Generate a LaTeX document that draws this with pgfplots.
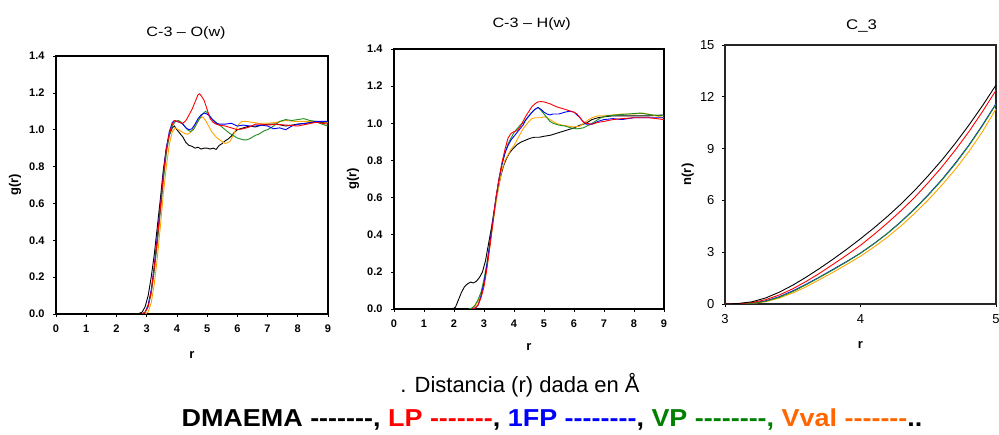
\documentclass[border=0pt]{standalone}
\usepackage{fontspec}
\setmainfont{Liberation Sans}
\newfontfamily\titlefont[FakeStretch=1.2]{Liberation Sans}
\newfontfamily\capfont{Liberation Sans}
\newfontfamily\capboldfont[FakeStretch=1.1]{Liberation Sans Bold}
\usepackage{pgfplots}
\pgfplotsset{compat=1.18}
\definecolor{cgreen}{RGB}{30,140,30}
\definecolor{corange}{RGB}{255,165,0}
\definecolor{txtorange}{RGB}{255,102,0}
\definecolor{txtgreen}{RGB}{0,128,0}
\pgfplotsset{
  rdf/.style={scale only axis,
    axis line style={black,line width=1.5pt},
    tick style={black,line width=0.6pt},
    major tick length=3pt, tick align=outside,
    xtick pos=left, ytick pos=left,
    /pgf/number format/assume math mode=true,
    tick label style={font=\fontsize{11}{13}\selectfont\bfseries},
    xticklabel style={yshift=-4pt},
    yticklabel style={xshift=-5pt},
    xmin=0,xmax=9,ymin=0,ymax=1.4,
    xtick={0,1,...,9}, ytick={0,0.2,...,1.4},
    yticklabel style={/pgf/number format/.cd,fixed,fixed zerofill,precision=1},
    label style={font=\fontsize{13}{15}\selectfont\bfseries},
    title style={font=\fontsize{13.5}{15}\selectfont\titlefont},
  },
  cv/.style={line width=0.9pt},
}
\begin{document}
\begin{tikzpicture}[x=1pt,y=1pt]
\useasboundingbox (0,0) rectangle (999,435);
% ---------- Panel 1 ----------
\begin{axis}[rdf, at={(56pt,121pt)}, anchor=south west, width=272pt, height=258pt,
  title={C-3 – O(w)}, title style={at={(axis description cs:0.478,1.066)},anchor=center},
  xlabel={r}, xlabel style={at={(axis description cs:0.5,-0.159)},anchor=center},
  ylabel={g(r)}, ylabel style={at={(axis description cs:-0.151,0.5)},anchor=center}]
\addplot[cv,black] coordinates {(2.7,0) (2.85,0.01) (2.95,0.04) (3.05,0.1) (3.15,0.2) (3.25,0.32) (3.35,0.47) (3.45,0.62) (3.55,0.78) (3.65,0.9) (3.75,0.97) (3.85,1.01) (3.92,1.02) (4.0,1.0) (4.1,0.98) (4.2,0.96) (4.3,0.93) (4.4,0.915) (4.5,0.91) (4.6,0.9) (4.7,0.905) (4.8,0.895) (4.9,0.9) (5.0,0.9) (5.1,0.895) (5.2,0.9) (5.3,0.893) (5.4,0.915) (5.5,0.925) (5.6,0.94) (5.7,0.95) (5.8,0.965) (5.9,0.985) (6.0,1.0) (6.2,1.01) (6.4,1.02) (6.6,1.015) (6.8,1.025) (7.0,1.03) (7.3,1.03) (7.6,1.02) (8.0,1.03) (8.5,1.04) (9.0,1.04)};
\addplot[cv,corange] coordinates {(2.95,0) (3.05,0.01) (3.15,0.06) (3.25,0.16) (3.35,0.3) (3.45,0.47) (3.55,0.65) (3.65,0.8) (3.75,0.92) (3.85,0.99) (3.95,1.01) (4.05,1.0) (4.15,0.99) (4.25,0.98) (4.35,0.975) (4.45,0.985) (4.55,1.01) (4.65,1.04) (4.75,1.06) (4.85,1.07) (4.95,1.05) (5.05,1.02) (5.15,0.99) (5.3,0.96) (5.45,0.94) (5.6,0.925) (5.75,0.935) (5.85,0.965) (5.95,1.0) (6.05,1.03) (6.15,1.045) (6.3,1.045) (6.5,1.04) (6.7,1.035) (7.0,1.035) (7.3,1.04) (7.6,1.05) (7.9,1.045) (8.2,1.045) (8.6,1.045) (9.0,1.04)};
\addplot[cv,cgreen] coordinates {(2.85,0) (2.95,0.01) (3.05,0.04) (3.15,0.11) (3.25,0.23) (3.35,0.38) (3.45,0.55) (3.55,0.72) (3.65,0.87) (3.75,0.97) (3.85,1.02) (3.95,1.045) (4.05,1.05) (4.15,1.04) (4.25,1.02) (4.35,1.0) (4.45,0.99) (4.55,1.0) (4.65,1.03) (4.75,1.06) (4.85,1.085) (4.95,1.1) (5.05,1.085) (5.15,1.06) (5.3,1.04) (5.45,1.02) (5.6,1.0) (5.75,0.98) (5.9,0.965) (6.0,0.955) (6.1,0.95) (6.2,0.945) (6.3,0.945) (6.4,0.95) (6.5,0.96) (6.6,0.97) (6.7,0.975) (6.8,0.985) (6.9,0.995) (7.0,1.0) (7.2,1.02) (7.4,1.045) (7.6,1.055) (7.8,1.05) (8.0,1.055) (8.2,1.06) (8.4,1.05) (8.6,1.045) (8.8,1.03) (9.0,1.02)};
\addplot[cv,blue] coordinates {(2.85,0) (2.95,0.01) (3.05,0.05) (3.15,0.13) (3.25,0.26) (3.35,0.42) (3.45,0.58) (3.55,0.76) (3.65,0.9) (3.75,0.99) (3.85,1.04) (3.92,1.05) (4.0,1.045) (4.1,1.04) (4.2,1.03) (4.3,1.01) (4.4,1.0) (4.5,1.005) (4.6,1.03) (4.7,1.06) (4.8,1.08) (4.9,1.09) (5.0,1.085) (5.1,1.07) (5.2,1.05) (5.3,1.035) (5.4,1.03) (5.6,1.03) (5.8,1.035) (6.0,1.02) (6.2,1.025) (6.4,1.02) (6.6,1.02) (6.8,1.025) (7.0,1.02) (7.2,1.005) (7.4,1.01) (7.6,1.0) (7.8,1.02) (8.0,1.03) (8.3,1.035) (8.6,1.045) (9.0,1.045)};
\addplot[cv,red] coordinates {(2.85,0) (2.95,0.01) (3.05,0.04) (3.15,0.12) (3.25,0.25) (3.35,0.4) (3.45,0.57) (3.55,0.75) (3.65,0.89) (3.75,0.98) (3.85,1.03) (3.92,1.05) (4.0,1.045) (4.1,1.04) (4.2,1.035) (4.3,1.05) (4.4,1.08) (4.5,1.11) (4.6,1.15) (4.7,1.19) (4.75,1.195) (4.8,1.185) (4.9,1.16) (5.0,1.11) (5.1,1.06) (5.2,1.04) (5.3,1.03) (5.4,1.025) (5.6,1.02) (5.8,1.01) (6.0,1.0) (6.2,1.005) (6.4,1.015) (6.6,1.03) (6.8,1.03) (7.0,1.025) (7.3,1.03) (7.6,1.025) (8.0,1.02) (8.3,1.03) (8.6,1.04) (9.0,1.03)};
\end{axis}
% ---------- Panel 2 ----------
\begin{axis}[rdf, at={(394pt,126pt)}, anchor=south west, width=270pt, height=260pt,
  title={C-3 – H(w)}, title style={at={(axis description cs:0.51,1.074)},anchor=center},
  xlabel={r}, xlabel style={at={(axis description cs:0.5,-0.146)},anchor=center},
  ylabel={g(r)}, ylabel style={at={(axis description cs:-0.152,0.5)},anchor=center}]
\addplot[cv,black] coordinates {(1.95,0) (2.05,0.01) (2.15,0.05) (2.25,0.09) (2.35,0.12) (2.45,0.135) (2.55,0.145) (2.65,0.14) (2.75,0.15) (2.85,0.17) (2.95,0.2) (3.05,0.26) (3.15,0.35) (3.25,0.44) (3.35,0.54) (3.45,0.63) (3.55,0.71) (3.65,0.77) (3.75,0.81) (3.85,0.84) (3.95,0.86) (4.1,0.885) (4.25,0.9) (4.4,0.91) (4.55,0.92) (4.7,0.925) (4.85,0.925) (5.0,0.93) (5.2,0.935) (5.4,0.945) (5.6,0.955) (5.8,0.965) (6.0,0.975) (6.2,0.99) (6.4,1.0) (6.6,1.02) (6.8,1.03) (7.0,1.035) (7.3,1.04) (7.6,1.04) (8.0,1.04) (8.5,1.04) (9.0,1.045)};
\addplot[cv,corange] coordinates {(2.5,0) (2.6,0.005) (2.7,0.015) (2.8,0.04) (2.9,0.08) (3.0,0.14) (3.1,0.23) (3.2,0.34) (3.3,0.46) (3.4,0.57) (3.5,0.67) (3.6,0.75) (3.7,0.8) (3.8,0.83) (3.9,0.86) (4.0,0.88) (4.1,0.91) (4.2,0.94) (4.3,0.97) (4.4,0.99) (4.5,1.01) (4.6,1.025) (4.7,1.03) (4.8,1.03) (4.9,1.03) (5.0,1.035) (5.1,1.03) (5.2,1.02) (5.3,1.01) (5.4,1.0) (5.6,0.99) (5.8,0.985) (6.0,0.98) (6.2,0.985) (6.4,1.01) (6.6,1.03) (6.8,1.04) (7.0,1.04) (7.3,1.045) (7.6,1.05) (8.0,1.05) (8.3,1.055) (8.6,1.045) (9.0,1.03)};
\addplot[cv,cgreen] coordinates {(2.5,0) (2.6,0.005) (2.7,0.02) (2.8,0.05) (2.9,0.09) (3.0,0.16) (3.1,0.25) (3.2,0.36) (3.3,0.48) (3.4,0.6) (3.5,0.7) (3.6,0.78) (3.7,0.84) (3.8,0.89) (3.9,0.92) (4.0,0.95) (4.1,0.97) (4.2,0.99) (4.3,1.0) (4.4,1.02) (4.5,1.04) (4.6,1.06) (4.7,1.075) (4.8,1.085) (4.9,1.07) (5.0,1.05) (5.1,1.03) (5.2,1.01) (5.3,1.0) (5.5,0.99) (5.7,0.985) (5.9,0.975) (6.1,0.97) (6.3,0.975) (6.5,0.99) (6.7,1.01) (6.9,1.03) (7.1,1.04) (7.4,1.045) (7.8,1.05) (8.2,1.055) (8.6,1.045) (9.0,1.04)};
\addplot[cv,blue] coordinates {(2.6,0) (2.7,0.005) (2.8,0.02) (2.9,0.07) (3.0,0.14) (3.1,0.24) (3.2,0.36) (3.3,0.48) (3.4,0.6) (3.5,0.7) (3.6,0.78) (3.7,0.84) (3.8,0.88) (3.9,0.91) (4.0,0.93) (4.1,0.95) (4.2,0.97) (4.3,0.99) (4.4,1.02) (4.5,1.04) (4.6,1.06) (4.7,1.075) (4.8,1.085) (4.9,1.075) (5.0,1.06) (5.1,1.05) (5.2,1.045) (5.3,1.05) (5.5,1.05) (5.7,1.06) (5.85,1.065) (6.0,1.06) (6.1,1.045) (6.2,1.03) (6.3,1.01) (6.4,0.995) (6.6,0.995) (6.8,1.01) (7.0,1.02) (7.3,1.025) (7.6,1.02) (8.0,1.03) (8.5,1.03) (9.0,1.03)};
\addplot[cv,red] coordinates {(2.6,0) (2.7,0.005) (2.8,0.02) (2.9,0.06) (3.0,0.12) (3.1,0.22) (3.2,0.34) (3.3,0.47) (3.4,0.6) (3.5,0.7) (3.6,0.79) (3.7,0.86) (3.8,0.92) (3.9,0.945) (4.0,0.955) (4.1,0.96) (4.2,0.98) (4.3,1.01) (4.4,1.04) (4.5,1.065) (4.6,1.09) (4.7,1.105) (4.8,1.115) (4.9,1.117) (5.0,1.115) (5.2,1.105) (5.4,1.09) (5.6,1.08) (5.8,1.07) (6.0,1.06) (6.1,1.05) (6.2,1.03) (6.3,1.01) (6.4,1.0) (6.6,0.995) (6.8,1.005) (7.0,1.01) (7.3,1.02) (7.6,1.025) (8.0,1.03) (8.5,1.03) (9.0,1.02)};
\end{axis}
% ---------- Panel 3 ----------
\begin{axis}[scale only axis, at={(725pt,131pt)}, anchor=south west, width=271pt, height=259pt,
  axis line style={black!85,line width=1.3pt},
  tick style={black,line width=0.6pt}, major tick length=3pt, tick align=outside,
  xtick pos=left, ytick pos=left,
  /pgf/number format/assume math mode=true,
  tick label style={font=\fontsize{13}{15}\selectfont},
  xticklabel style={yshift=-4pt}, yticklabel style={xshift=-4pt},
  xmin=3,xmax=5,ymin=0,ymax=15, xtick={3,4,5}, ytick={0,3,...,15},
  title={C\_3}, title style={font=\fontsize{14}{16}\selectfont\titlefont, at={(axis description cs:0.504,1.05)},anchor=center},
  xlabel={r}, xlabel style={font=\fontsize{13}{15}\selectfont\bfseries, at={(axis description cs:0.5,-0.158)},anchor=center},
  ylabel={n(r)}, ylabel style={font=\fontsize{13}{15}\selectfont\bfseries, at={(axis description cs:-0.137,0.5)},anchor=center}]
\addplot[cv,corange] coordinates {(3.0,0) (3.1,0.01) (3.2,0.03) (3.3,0.13) (3.4,0.34) (3.5,0.64) (3.6,1.0) (3.7,1.42) (3.8,1.85) (3.9,2.3) (4.0,2.77) (4.1,3.3) (4.2,3.88) (4.3,4.53) (4.4,5.25) (4.5,6.03) (4.6,6.88) (4.7,7.8) (4.8,8.83) (4.9,9.98) (5.0,11.3)};
\addplot[cv,blue] coordinates {(3.0,0) (3.1,0.01) (3.2,0.05) (3.3,0.18) (3.4,0.42) (3.5,0.76) (3.6,1.15) (3.7,1.57) (3.8,2.02) (3.9,2.47) (4.0,2.95) (4.1,3.5) (4.2,4.1) (4.3,4.78) (4.4,5.52) (4.5,6.33) (4.6,7.2) (4.7,8.16) (4.8,9.2) (4.9,10.36) (5.0,11.6)};
\addplot[cv,cgreen] coordinates {(3.0,0) (3.1,0.01) (3.2,0.04) (3.3,0.16) (3.4,0.39) (3.5,0.72) (3.6,1.12) (3.7,1.55) (3.8,1.99) (3.9,2.45) (4.0,2.94) (4.1,3.49) (4.2,4.09) (4.3,4.76) (4.4,5.5) (4.5,6.3) (4.6,7.17) (4.7,8.12) (4.8,9.17) (4.9,10.32) (5.0,11.57)};
\addplot[cv,red] coordinates {(3.0,0) (3.1,0.02) (3.2,0.08) (3.3,0.25) (3.4,0.52) (3.5,0.88) (3.6,1.31) (3.7,1.79) (3.8,2.31) (3.9,2.84) (4.0,3.4) (4.1,4.03) (4.2,4.7) (4.3,5.41) (4.4,6.18) (4.5,7.03) (4.6,7.93) (4.7,8.92) (4.8,9.98) (4.9,11.14) (5.0,12.38)};
\addplot[cv,black] coordinates {(3.0,0) (3.1,0.03) (3.2,0.13) (3.3,0.35) (3.4,0.68) (3.5,1.09) (3.6,1.56) (3.7,2.07) (3.8,2.61) (3.9,3.18) (4.0,3.78) (4.1,4.41) (4.2,5.08) (4.3,5.8) (4.4,6.58) (4.5,7.43) (4.6,8.33) (4.7,9.31) (4.8,10.36) (4.9,11.48) (5.0,12.68)};
\end{axis}
% ---------- caption ----------
\node[font=\fontsize{22}{24}\selectfont\capfont] at (520,50) {. Distancia (r) dada en Å};
\node[font=\fontsize{24.5}{26}\selectfont\capboldfont] at (552,15) {DMAEMA -------, \textcolor{red}{LP -------}, \textcolor{blue}{1FP --------}, \textcolor{txtgreen}{VP --------,} \textcolor{txtorange}{Vval -------}..};
\end{tikzpicture}
\end{document}
